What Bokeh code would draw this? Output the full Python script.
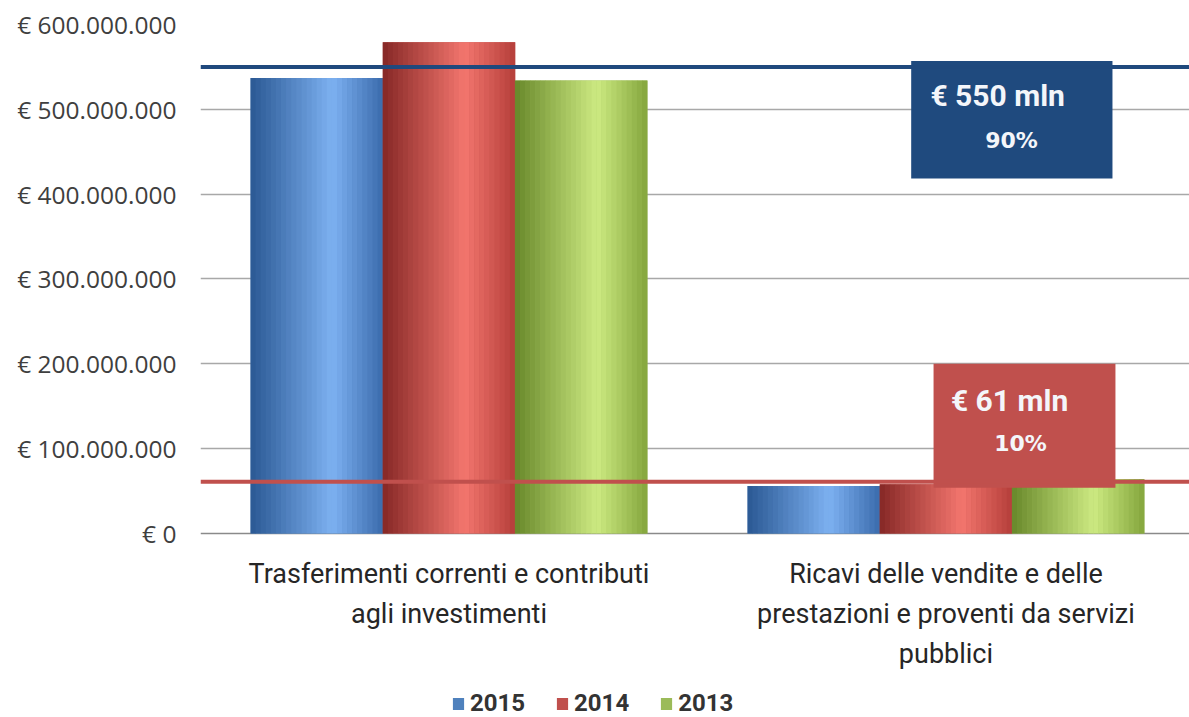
from bokeh.plotting import figure
from bokeh.models import (Range1d, FixedTicker, Span, BoxAnnotation, Label,
                          Legend, LegendItem)
from bokeh.core.properties import value
from bokeh.embed import file_html
from bokeh.resources import INLINE

# ---------------- data ----------------
categories = ["Trasferimenti correnti e contributi\nagli investimenti",
              "Ricavi delle vendite e delle\nprestazioni e proventi da servizi\npubblici"]
years = ["2015", "2014", "2013"]
v2015 = [537e6, 56e6]
v2014 = [579e6, 58e6]
v2013 = [534e6, 64e6]
series = [v2015, v2014, v2013]
totals = [550e6, 61e6]                 # reference lines
callout_main = ["€ 550 mln", "€ 61 mln"]
callout_pct = ["90%", "10%"]
y_ticks = [0, 100e6, 200e6, 300e6, 400e6, 500e6, 600e6]
y_tick_labels = ["€ 0", "€ 100.000.000", "€ 200.000.000", "€ 300.000.000",
                 "€ 400.000.000", "€ 500.000.000", "€ 600.000.000"]

# ---------------- styles ----------------
base_colors = ["#4F81BD", "#C0504D", "#9BBB59"]
profiles = [
    [(0.0, "#2a5893"), (0.62, "#7db1f1"), (1.0, "#3b6cad")],
    [(0.0, "#862826"), (0.62, "#f3766e"), (1.0, "#b53e3a")],
    [(0.0, "#68882a"), (0.62, "#cdea82"), (1.0, "#84a63c")],
]
line_colors = ["#1F497D", "#C0504D"]
box_colors = ["#1F4A7E", "#C0504D"]


def hex2rgb(h):
    h = h.lstrip("#")
    return tuple(int(h[i:i + 2], 16) for i in (0, 2, 4))


def grad(profile, f):
    for (p0, c0), (p1, c1) in zip(profile[:-1], profile[1:]):
        if p0 <= f <= p1:
            t = (f - p0) / (p1 - p0)
            a, b = hex2rgb(c0), hex2rgb(c1)
            r = [round(a[k] + (b[k] - a[k]) * t) for k in range(3)]
            return "#%02x%02x%02x" % tuple(r)
    return profile[-1][1]


centers = [0.5 + i for i in range(len(categories))]
bar_w = 0.266
offsets = [-bar_w, 0.0, bar_w]
Y_MAX = 600e6
Y_MIN = -216.9e6   # room under the zero line for category labels and legend

p = figure(width=1189, height=717, output_backend="svg", toolbar_location=None,
           x_range=Range1d(0, 1.99), y_range=Range1d(Y_MIN, Y_MAX),
           min_border_left=200, min_border_top=24, min_border_right=0,
           min_border_bottom=0)
p.outline_line_color = None
p.background_fill_color = "white"
p.border_fill_color = "white"
p.xaxis.visible = False

items = []
N = 26
for s, vals in enumerate(series):
    xs = [c + offsets[s] for c in centers]
    base = p.vbar(x=xs, top=vals, bottom=0, width=bar_w, fill_color=base_colors[s],
                  line_color=None)
    for i in range(N):
        f = (i + 0.5) / N
        sx = [x + (f - 0.5) * bar_w for x in xs]
        p.vbar(x=sx, top=vals, bottom=0, width=bar_w / N * 1.08,
               fill_color=grad(profiles[s], f), line_color=None)
    items.append(LegendItem(label=years[s], renderers=[base]))

# zero (category axis) line
p.add_layout(Span(location=0, dimension="width", line_color="#8a8a8a",
                  line_width=1.5, level="underlay"))

# category labels under the zero line
p.text(x=centers, y=[-0.049 * Y_MAX] * len(centers), text=categories,
       text_align="center", text_baseline="top",
       text_font=value("Roboto"), text_font_size="27px", text_color="#262626",
       text_line_height=1.24)

# reference lines
for k, v in enumerate(totals):
    p.add_layout(Span(location=v, dimension="width", line_color=line_colors[k],
                      line_width=4, level="overlay"))

# callout boxes (anchored on group 2 centre and the line values)
c2 = centers[1]
p.add_layout(BoxAnnotation(left=c2 - 0.07, right=c2 + 0.335,
                           bottom=totals[0] - 131.5e6, top=totals[0] + 7e6,
                           fill_color=box_colors[0], fill_alpha=1, line_color=None))
p.add_layout(BoxAnnotation(left=c2 - 0.025, right=c2 + 0.341,
                           bottom=totals[1] - 7e6, top=totals[1] + 139e6,
                           fill_color=box_colors[1], fill_alpha=1, line_color=None))

main_pos = [(c2 + 0.104, totals[0] - 34e6), (c2 + 0.128, totals[1] + 96e6)]
pct_pos = [(c2 + 0.132, totals[0] - 86.7e6), (c2 + 0.15, totals[1] + 45e6)]
for k in range(2):
    p.add_layout(Label(x=main_pos[k][0], y=main_pos[k][1], text=callout_main[k],
                       text_align="center", text_baseline="middle",
                       text_color="#f4f6fa", text_font="Roboto", text_font_style="bold",
                       text_font_size="30px"))
    p.add_layout(Label(x=pct_pos[k][0], y=pct_pos[k][1], text=callout_pct[k],
                       text_align="center", text_baseline="middle",
                       text_color="#f4f6fa", text_font="DejaVu Sans",
                       text_font_style="bold", text_font_size="22px"))

# y axis
p.yaxis.ticker = FixedTicker(ticks=y_ticks)
p.yaxis.major_label_overrides = {t: l for t, l in zip(y_ticks, y_tick_labels)}
p.yaxis.axis_line_color = None
p.yaxis.major_tick_line_color = None
p.yaxis.minor_tick_line_color = None
p.yaxis.major_label_standoff = 18
p.yaxis.major_label_text_font = "Open Sans"
p.yaxis.major_label_text_font_size = "24.5px"
p.yaxis.major_label_text_color = "#3f3f3f"

p.xgrid.grid_line_color = None
p.ygrid.ticker = FixedTicker(ticks=y_ticks[1:])
p.ygrid.grid_line_color = "#a8a8a8"
p.ygrid.grid_line_width = 1.5

legend = Legend(items=items, orientation="horizontal", location=(251, 0),
                label_text_font="Roboto", label_text_font_style="bold",
                label_text_font_size="24px", label_text_color="#333333",
                glyph_width=14, glyph_height=15, spacing=30, label_standoff=5,
                border_line_color=None, background_fill_alpha=0, margin=0,
                padding=0)
p.add_layout(legend)

open("out.html", "w").write(file_html(p, INLINE))
